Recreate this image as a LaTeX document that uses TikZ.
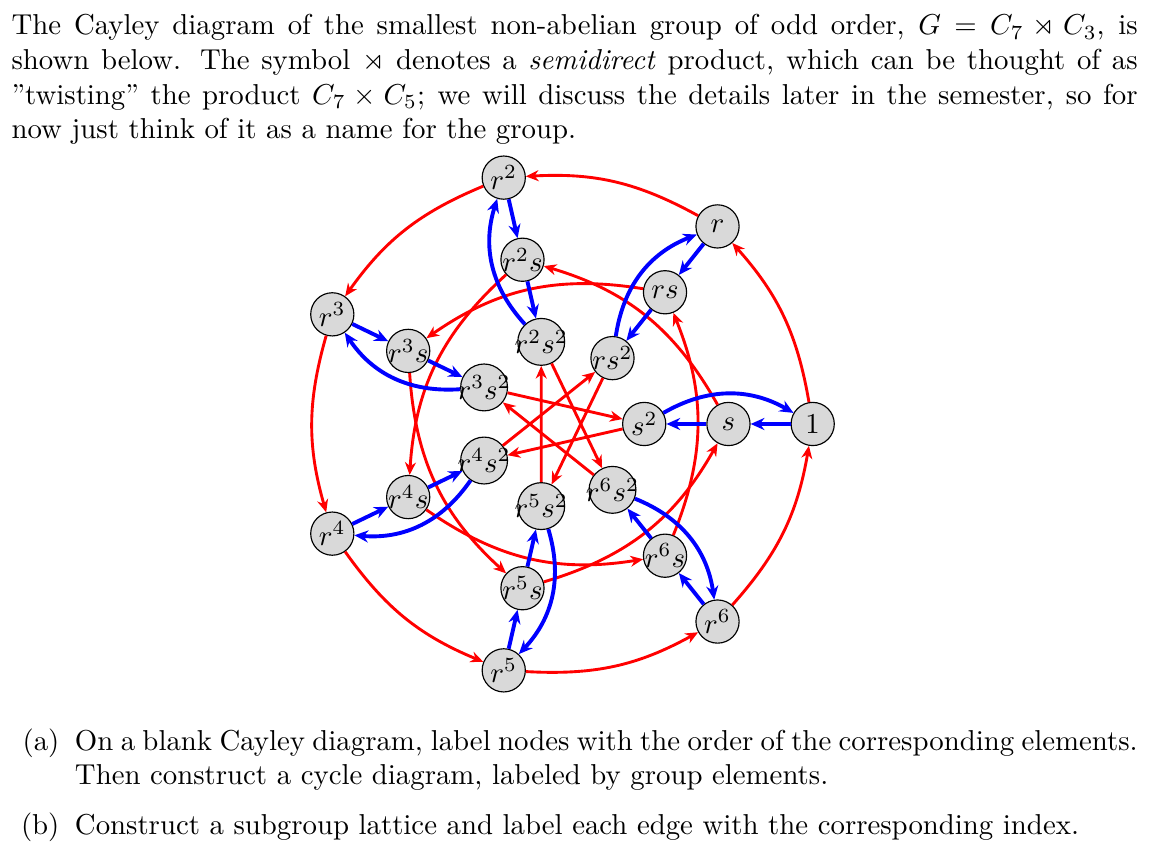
\documentclass[tikz,border=0pt]{standalone}
\usepackage{amsmath,amssymb}
\usetikzlibrary{positioning,arrows.meta}
\tikzset{
  elt/.style={circle,draw,fill=gray!30,inner sep=-1.5pt,minimum size=15pt},
  rmul/.style={-{Stealth[length=4.4pt,width=3.8pt,inset=1.4pt]},red,line width=1pt},
  smul/.style={-{Stealth[length=4.8pt,width=4.2pt,inset=1.6pt]},blue,line width=1.35pt},
  txt/.style={inner sep=0pt,align=justify},
  lbl/.style={inner sep=0pt}
}
\begin{document}
\begin{tikzpicture}[x=1.028cm,y=1.028cm]
  \useasboundingbox (-194.44pt,-150pt) rectangle (205.56pt,147.22pt);
  \node[txt,text width=391pt,anchor=base west] (intro) at (-190.6pt,135.07pt)
    {The Cayley diagram of the smallest non-abelian group of odd order, $G=C_7\rtimes C_3$, is\linebreak
     shown below. The symbol $\rtimes$ denotes a \emph{semidirect} product, which can be thought of as\linebreak
     ”twisting” the product $C_7\times C_5$; we will discuss the details later in the semester, so for\linebreak
     now just think of it as a name for the group.};
  % elements r^k, r^k s, r^k s^2 on three rings
  \foreach \k/\a/\b/\c in {0/1/s/s^2,1/r/rs/rs^2,2/r^2/r^2s/r^2s^2,3/r^3/r^3s/r^3s^2,
      4/r^4/r^4s/r^4s^2,5/r^5/r^5s/r^5s^2,6/r^6/r^6s/r^6s^2}{
    \node[elt] (r\k) at (\k*360/7:3) {$\a$};
    \node[elt] (rs\k) at (\k*360/7:2) {$\b$};
    \node[elt] (rss\k) at (\k*360/7:1) {$\c$};
  }
  % right multiplication by r
  \foreach \k in {0,...,6}{
    \pgfmathtruncatemacro\ka{mod(\k+1,7)}
    \pgfmathtruncatemacro\kb{mod(\k+2,7)}
    \pgfmathtruncatemacro\kd{mod(\k+4,7)}
    \draw[rmul] (r\k) to[bend right=16] (r\ka);
    \draw[rmul] (rs\k) to[bend right=22] (rs\kb);
    \draw[rmul] (rss\k) -- (rss\kd);
  }
  % right multiplication by s
  \foreach \k in {0,...,6}{
    \draw[smul] (r\k) -- (rs\k);
    \draw[smul] (rs\k) -- (rss\k);
    \draw[smul] (rss\k) to[bend left=30] (r\k);
  }
  \node[txt,text width=369pt,anchor=base west] (itema) at (-168.6pt,-113.2pt)
    {On a blank Cayley diagram, label nodes with the order of the corresponding elements.
     Then construct a cycle diagram, labeled by group elements.};
  \node[lbl,base left=5pt of itema] (laba) {(a)};
  \node[txt,text width=369pt,anchor=base west] (itemb) at (-168.6pt,-142.4pt)
    {Construct a subgroup lattice and label each edge with the corresponding index.};
  \node[lbl,base left=5pt of itemb] (labb) {(b)};
\end{tikzpicture}
\end{document}
